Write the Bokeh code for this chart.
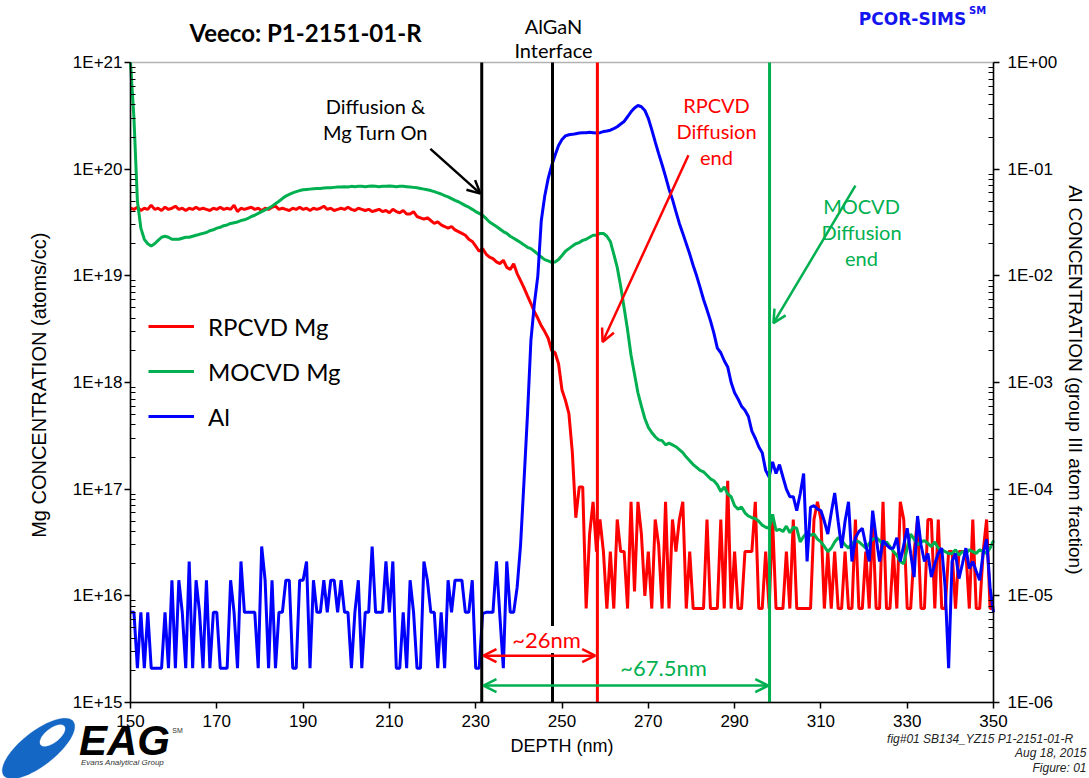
import numpy as np
from bokeh.plotting import figure
from bokeh.models import (Range1d, LogScale, LogAxis, FixedTicker, Label, Arrow,
                          OpenHead, Legend, LegendItem, PolyAnnotation, BoxAnnotation,
                          CustomJSTickFormatter)
from bokeh.embed import file_html
from bokeh.resources import INLINE

# ---------------- data ----------------
depth_start = 150.0
depth_step = 0.8

rpcvd_mg = [
    4.3e19, 4.2e19, 4.4e19, 4.1e19, 4.3e19, 4.2e19, 4.6e19, 4.2e19, 4.3e19, 4.1e19,
    4.4e19, 4.2e19, 4.3e19, 4.5e19, 4.2e19, 4.3e19, 4.1e19, 4.3e19, 4.2e19, 4.4e19,
    4.2e19, 4.3e19, 4.2e19, 4.1e19, 4.3e19, 4.2e19, 4.4e19, 4.2e19, 4.3e19, 4.2e19,
    4.6e19, 4.0e19, 4.3e19, 4.2e19, 4.3e19, 4.4e19, 4.2e19, 4.3e19, 4.1e19, 4.3e19,
    4.2e19, 4.4e19, 4.5e19, 4.2e19, 4.3e19, 4.2e19, 4.1e19, 4.3e19, 4.2e19, 4.4e19,
    4.2e19, 4.3e19, 4.1e19, 4.3e19, 4.2e19, 4.3e19, 4.5e19, 4.2e19, 4.3e19, 4.1e19,
    4.2e19, 4.3e19, 4.2e19, 4.4e19, 4.2e19, 4.1e19, 4.3e19, 4.2e19, 4.1e19, 4.2e19,
    4.0e19, 4.1e19, 4.2e19, 4.0e19, 4.1e19, 3.9e19, 4.2e19, 4.0e19, 3.9e19, 4.1e19,
    3.8e19, 3.8e19, 4.0e19, 3.6e19, 3.5e19, 3.4e19, 3.5e19, 3.3e19, 3.1e19, 3.2e19,
    3.0e19, 2.9e19, 2.8e19, 2.9e19, 2.7e19, 2.6e19, 2.5e19, 2.4e19, 2.2e19, 2.1e19,
    1.9e19, 1.7e19, 1.8e19, 1.6e19, 1.5e19, 1.45e19, 1.35e19, 1.3e19, 1.4e19, 1.2e19,
    1.15e19, 1.3e19, 1.05e19, 9.0e18, 7.7e18, 6.5e18, 5.5e18, 4.6e18, 4.0e18, 3.4e18,
    3.0e18, 2.6e18, 2.0e18, 1.9e18, 1.5e18, 8.5e17, 6.8e17, 5.1e17, 2.2e17, 5.4e16,
    1.05e17, 1.05e17, 7.6e15, 3.8e16, 7.6e16, 2.6e16, 5.2e16, 2.6e16, 7.6e15, 2.6e16,
    7.6e15, 5.2e16, 2.6e16, 2.6e16, 7.6e15, 7.6e16, 1.1e16, 7.6e16, 3.8e16, 1.0e16,
    2.6e16, 7.6e15, 5.2e16, 3.0e16, 7.6e15, 7.6e16, 7.6e15, 5.2e16, 2.6e16, 5.2e16,
    7.6e16, 7.6e15, 2.6e16, 7.6e15, 7.6e15, 7.6e15, 7.6e15, 5.2e16, 7.6e15, 7.6e15,
    7.6e15, 5.2e16, 7.6e15, 1.2e17, 7.6e15, 2.6e16, 7.6e15, 7.6e15, 2.6e16, 2.6e16,
    2.6e16, 7.6e16, 7.6e15, 7.6e15, 2.6e16, 7.6e15, 5.2e16, 7.6e15, 7.6e15, 7.6e15,
    2.6e16, 7.6e15, 5.2e16, 7.6e15, 7.6e15, 7.6e15, 7.6e15, 7.6e15, 5.2e16, 7.6e16,
    5.2e16, 7.6e15, 2.6e16, 7.6e15, 2.6e16, 7.6e15, 7.6e15, 2.6e16, 7.6e15, 7.6e15,
    5.2e16, 7.6e15, 7.6e15, 2.6e16, 7.6e15, 5.2e16, 7.6e15, 7.6e15, 7.6e16, 7.6e15,
    7.6e15, 2.6e16, 7.6e15, 7.6e16, 5.2e16, 7.6e15, 7.6e15, 2.6e16, 5.2e16, 7.6e15,
    7.6e15, 5.2e16, 5.2e16, 7.6e15, 5.2e16, 7.6e15, 7.6e15, 2.6e16, 2.6e16, 7.6e15,
    2.6e16, 2.6e16, 2.6e16, 7.6e15, 5.2e16, 7.6e15, 7.6e15, 2.6e16, 5.2e16, 7.6e15,
    7.6e15,
]

mocvd_mg = [
    1.0e21, 3.0e20, 5.0e19, 2.8e19, 2.2e19, 2.0e19, 1.9e19, 2.0e19, 2.15e19, 2.3e19,
    2.35e19, 2.3e19, 2.2e19, 2.2e19, 2.2e19, 2.25e19, 2.3e19, 2.3e19, 2.35e19, 2.4e19,
    2.45e19, 2.5e19, 2.55e19, 2.65e19, 2.7e19, 2.8e19, 2.85e19, 2.95e19, 3.0e19, 3.1e19,
    3.15e19, 3.2e19, 3.3e19, 3.35e19, 3.45e19, 3.6e19, 3.7e19, 3.85e19, 4.0e19, 4.15e19,
    4.3e19, 4.5e19, 4.75e19, 5.0e19, 5.3e19, 5.6e19, 5.8e19, 6.0e19, 6.15e19, 6.3e19,
    6.4e19, 6.45e19, 6.5e19, 6.55e19, 6.6e19, 6.6e19, 6.65e19, 6.7e19, 6.7e19, 6.75e19,
    6.8e19, 6.8e19, 6.85e19, 6.8e19, 6.9e19, 6.85e19, 6.9e19, 6.9e19, 6.85e19, 6.9e19,
    6.95e19, 6.9e19, 6.85e19, 6.9e19, 6.9e19, 6.95e19, 6.9e19, 6.85e19, 6.9e19, 6.9e19,
    6.85e19, 6.8e19, 6.75e19, 6.7e19, 6.6e19, 6.5e19, 6.4e19, 6.3e19, 6.15e19, 6.0e19,
    5.85e19, 5.65e19, 5.5e19, 5.3e19, 5.1e19, 4.95e19, 4.75e19, 4.55e19, 4.4e19, 4.2e19,
    4.0e19, 3.85e19, 3.7e19, 3.45e19, 3.2e19, 3.05e19, 2.9e19, 2.75e19, 2.6e19, 2.5e19,
    2.35e19, 2.25e19, 2.15e19, 2.05e19, 1.95e19, 1.85e19, 1.8e19, 1.7e19, 1.6e19, 1.5e19,
    1.42e19, 1.38e19, 1.34e19, 1.35e19, 1.42e19, 1.55e19, 1.7e19, 1.8e19, 1.9e19, 2.0e19,
    2.05e19, 2.15e19, 2.2e19, 2.3e19, 2.4e19, 2.4e19, 2.5e19, 2.5e19, 2.35e19, 2.1e19,
    1.6e19, 1.2e19, 8.0e18, 5.0e18, 3.1e18, 1.8e18, 1.2e18, 8.0e17, 6.0e17, 4.6e17,
    3.8e17, 3.4e17, 3.1e17, 2.9e17, 2.85e17, 2.6e17, 2.7e17, 2.6e17, 2.5e17, 2.35e17,
    2.2e17, 2.0e17, 1.85e17, 1.7e17, 1.6e17, 1.5e17, 1.45e17, 1.35e17, 1.25e17, 1.2e17,
    1.1e17, 9.5e16, 1.05e17, 9.0e16, 8.5e16, 7.0e16, 6.5e16, 6.8e16, 6.0e16, 5.6e16,
    5.4e16, 5.3e16, 5.0e16, 4.6e16, 4.4e16, 4.3e16, 5.8e16, 4.1e16, 4.2e16, 4.0e16,
    4.5e16, 3.9e16, 4.4e16, 4.3e16, 3.2e16, 3.6e16, 3.9e16, 3.7e16, 3.8e16, 3.4e16,
    3.2e16, 2.9e16, 2.6e16, 2.8e16, 3.2e16, 3.5e16, 3.3e16, 3.0e16, 2.8e16, 3.1e16,
    3.3e16, 3.2e16, 3.0e16, 2.8e16, 3.1e16, 3.4e16, 3.5e16, 3.3e16, 3.0e16, 3.2e16,
    2.9e16, 2.6e16, 2.4e16, 2.1e16, 2.0e16, 2.8e16, 3.8e16, 3.4e16, 3.0e16, 3.2e16,
    3.3e16, 3.1e16, 2.9e16, 3.2e16, 2.8e16, 2.7e16, 2.6e16, 2.5e16, 2.5e16, 2.7e16,
    2.4e16, 2.6e16, 2.5e16, 2.7e16, 2.6e16, 2.5e16, 2.7e16, 2.6e16, 2.5e16, 2.8e16,
    3.3e16,
]

al_fraction = [
    7e-6, 7e-6, 2.1e-6, 7e-6, 2.1e-6, 7e-6, 2.1e-6, 2.1e-6, 2.1e-6, 2.1e-6,
    7e-6, 2.1e-6, 1.4e-5, 2.1e-6, 1.4e-5, 7e-6, 2.1e-6, 2.1e-5, 2.1e-6, 1.4e-5,
    7e-6, 2.1e-6, 1.4e-5, 2.1e-6, 7e-6, 7e-6, 2.1e-6, 2.1e-6, 2.1e-6, 1.4e-5,
    7e-6, 2.1e-6, 2.1e-5, 7e-6, 7e-6, 7e-6, 7e-6, 2.1e-6, 2.9e-5, 1.4e-5,
    2.1e-6, 1.4e-5, 2.1e-6, 7e-6, 7e-6, 1.4e-5, 1.4e-5, 2.1e-6, 2.1e-6, 1.4e-5,
    1.4e-5, 2.1e-5, 2.1e-6, 1.4e-5, 7e-6, 7e-6, 1.4e-5, 7e-6, 1.4e-5, 1.4e-5,
    7e-6, 1.4e-5, 7e-6, 7e-6, 2.1e-6, 7e-6, 1.4e-5, 2.1e-6, 7e-6, 7e-6,
    2.9e-5, 7e-6, 7e-6, 7e-6, 2.1e-5, 7e-6, 2.1e-5, 2.1e-6, 2.1e-6, 7e-6,
    2.1e-6, 1.4e-5, 7e-6, 2.1e-6, 2.1e-6, 2.1e-5, 1.4e-5, 7e-6, 7e-6, 2.1e-6,
    7e-6, 2.1e-6, 1.4e-5, 7e-6, 1.4e-5, 1.4e-5, 1.4e-5, 7e-6, 7e-6, 1.4e-5,
    2.1e-6, 2.1e-6, 6.8e-6, 7e-6, 7e-6, 7e-6, 2.1e-5, 6.5e-6, 2.1e-6, 2.1e-5,
    7e-6, 7e-6, 1.2e-5, 3.0e-5, 1.2e-4, 5.0e-4, 2.5e-3, 5.5e-3, 1.0e-2, 3.3e-2,
    5.6e-2, 8.2e-2, 1.08e-1, 1.35e-1, 1.67e-1, 1.9e-1, 2.05e-1, 2.1e-1, 2.12e-1, 2.15e-1,
    2.18e-1, 2.2e-1, 2.2e-1, 2.22e-1, 2.2e-1, 2.18e-1, 2.2e-1, 2.25e-1, 2.28e-1, 2.32e-1,
    2.4e-1, 2.5e-1, 2.65e-1, 2.8e-1, 3.1e-1, 3.45e-1, 3.75e-1, 3.95e-1, 3.85e-1, 3.55e-1,
    3.0e-1, 2.35e-1, 1.8e-1, 1.4e-1, 1.1e-1, 8.5e-2, 6.5e-2, 5.2e-2, 4.0e-2, 3.1e-2,
    2.5e-2, 2.0e-2, 1.6e-2, 1.25e-2, 1.0e-2, 7.8e-3, 6.0e-3, 4.8e-3, 3.8e-3, 2.9e-3,
    2.1e-3, 1.9e-3, 1.6e-3, 1.4e-3, 1.0e-3, 8.0e-4, 7.0e-4, 6.0e-4, 5.5e-4, 4.8e-4,
    3.5e-4, 3.0e-4, 2.5e-4, 2.2e-4, 1.5e-4, 1.3e-4, 1.8e-4, 1.4e-4, 1.7e-4, 1.3e-4,
    1.0e-4, 8.5e-5, 8.5e-5, 6.3e-5, 9.0e-5, 1.4e-4, 2.1e-5, 6.8e-5, 7.0e-5, 6.5e-5,
    6.3e-5, 5.0e-5, 3.8e-5, 6.0e-5, 9.2e-5, 5.0e-5, 2.8e-5, 5.0e-5, 7.6e-5, 2.1e-5,
    3.5e-5, 4.0e-5, 4.3e-5, 3.0e-5, 2.1e-5, 6.3e-5, 3.5e-5, 2.1e-5, 3.3e-5, 3.0e-5,
    2.8e-5, 2.8e-5, 3.5e-5, 2.1e-5, 3.0e-5, 4.3e-5, 2.5e-5, 1.5e-5, 5.6e-5, 3.0e-5,
    2.1e-5, 2.5e-5, 1.5e-5, 2.0e-5, 2.5e-5, 2.8e-5, 1.2e-5, 2.1e-6, 2.1e-5, 2.5e-5,
    1.45e-5, 2.0e-5, 2.8e-5, 1.8e-5, 2.1e-5, 1.7e-5, 1.4e-5, 2.5e-5, 3.4e-5, 1.2e-5,
    7e-6,
]

series_names = ["RPCVD Mg", "MOCVD Mg", "Al"]
series_colors = ["#FF0000", "#00B050", "#0000FF"]

x_ticks = [150, 170, 190, 210, 230, 250, 270, 290, 310, 330, 350]
left_ticks = [1e15, 1e16, 1e17, 1e18, 1e19, 1e20, 1e21]
left_tick_labels = ["1E+15", "1E+16", "1E+17", "1E+18", "1E+19", "1E+20", "1E+21"]
right_ticks = [1e-6, 1e-5, 1e-4, 1e-3, 1e-2, 1e-1, 1e0]
right_tick_labels = ["1E-06", "1E-05", "1E-04", "1E-03", "1E-02", "1E-01", "1E+00"]

# reference lines (depth, nm)
marker_depths = [231.4, 247.8, 258.2, 298.1]
marker_colors = ["black", "black", "#FF0000", "#00B050"]

n = len(rpcvd_mg)
assert len(mocvd_mg) == n and len(al_fraction) == n, (len(rpcvd_mg), len(mocvd_mg), len(al_fraction))
depth = [round(depth_start + depth_step * i, 2) for i in range(n)]

# ---------------- layout geometry ----------------
W, H = 1089, 778
FL, FR, FT, FB = 130, 993, 62, 702          # plotting box edges on the page
X0, X1 = x_ticks[0], x_ticks[-1]
E0, E1 = 15, 21                              # decades shown on the left axis
px_per_nm = (FR - FL) / (X1 - X0)
px_per_dec = (FB - FT) / (E1 - E0)
xr = Range1d(X0 - FL / px_per_nm, X1 + (W - FR) / px_per_nm)
top_dec = E1 + FT / px_per_dec
bot_dec = E0 - (H - FB) / px_per_dec
yr_mg = Range1d(10 ** bot_dec, 10 ** top_dec)
yr_al = Range1d(10 ** (bot_dec - 21), 10 ** (top_dec - 21))

p = figure(width=W, height=H, x_range=xr, y_range=yr_mg, y_axis_type="log",
           output_backend="svg", toolbar_location=None, title=None,
           min_border_left=0, min_border_right=0, min_border_top=0, min_border_bottom=0,
           background_fill_color="white", border_fill_color="white", outline_line_color=None)
p.extra_y_ranges = {"al": yr_al}
p.extra_y_scales = {"al": LogScale()}
p.grid.visible = False

AX_FONT = "Liberation Sans"

xa = p.xaxis[0]
xa.fixed_location = left_ticks[0]
xa.bounds = (X0, X1)
xa.ticker = FixedTicker(ticks=x_ticks)
xa.axis_label = "DEPTH (nm)"
xa.major_tick_out = 6
xa.major_tick_in = 0
xa.minor_tick_out = 0
xa.minor_tick_in = 0
xa.major_label_standoff = 6
xa.axis_label_standoff = 6

ya = p.yaxis[0]
ya.fixed_location = X0
ya.bounds = (left_ticks[0], left_ticks[-1])
ya.ticker = FixedTicker(ticks=left_ticks,
                        minor_ticks=[m * 10.0 ** e for e in range(15, 21) for m in range(2, 10)])
ya.formatter = CustomJSTickFormatter(args=dict(labels=left_tick_labels),
                                     code="return labels[Math.round(Math.log10(tick)) - 15];")
ya.axis_label = "Mg CONCENTRATION  (atoms/cc)"
ya.major_label_standoff = 2
ya.axis_label_standoff = 20

yr = LogAxis(y_range_name="al")
yr.fixed_location = X1
yr.bounds = (right_ticks[0], right_ticks[-1])
yr.ticker = FixedTicker(ticks=right_ticks,
                        minor_ticks=[m * 10.0 ** e for e in range(-6, 0) for m in range(2, 10)])
yr.formatter = CustomJSTickFormatter(args=dict(labels=right_tick_labels),
                                     code="return labels[Math.round(Math.log10(tick)) + 6];")
yr.axis_label = "Al CONCENTRATION  (group III atom fraction)"
yr.major_label_standoff = 8
yr.axis_label_standoff = 5
p.add_layout(yr, "right")

for ax in (ya, yr):
    ax.major_tick_out = 6
    ax.major_tick_in = 0
    ax.minor_tick_in = 5
    ax.minor_tick_out = 0
    ax.minor_tick_line_width = 1.2

for ax, lsize in ((xa, "18px"), (ya, "20px"), (yr, "19px")):
    ax.axis_line_width = 1.5
    ax.major_tick_line_width = 1.5
    ax.major_label_text_font = AX_FONT
    ax.major_label_text_font_size = "17px"
    ax.major_label_text_color = "black"
    ax.axis_label_text_font = AX_FONT
    ax.axis_label_text_font_size = lsize
    ax.axis_label_text_font_style = "normal"
    ax.axis_label_text_color = "black"
    ax.axis_line_color = "black"
    ax.major_tick_line_color = "black"
    ax.minor_tick_line_color = "black"

# plot box (top edge etc.)
p.add_layout(BoxAnnotation(left=X0, right=X1, bottom=left_ticks[0], top=left_ticks[-1],
                           fill_alpha=0, line_color="black", line_width=1.5, level="underlay"))

# ---------------- series ----------------
r_red = p.line(depth, rpcvd_mg, line_color=series_colors[0], line_width=3)
r_grn = p.line(depth, mocvd_mg, line_color=series_colors[1], line_width=3)
r_blu = p.line(depth, al_fraction, line_color=series_colors[2], line_width=3, y_range_name="al")

# vertical reference lines
p.segment(x0=marker_depths, y0=[left_ticks[0]] * len(marker_depths),
          x1=marker_depths, y1=[left_ticks[-1]] * len(marker_depths),
          line_color=marker_colors, line_width=3)

legend = Legend(items=[LegendItem(label=series_names[0], renderers=[r_red]),
                       LegendItem(label=series_names[1], renderers=[r_grn]),
                       LegendItem(label=series_names[2], renderers=[r_blu])],
                location=(138, H - 446), orientation="vertical",
                background_fill_alpha=0, border_line_alpha=0,
                label_text_font="Lato", label_text_font_size="24px", label_text_color="black",
                glyph_width=46, glyph_height=20, label_height=40, spacing=5,
                label_standoff=14, padding=10)
p.add_layout(legend)

# ---------------- annotations ----------------
def arrow(x0, y0, x1, y1, color, double=False):
    head = dict(size=13, line_color=color, line_width=2.5)
    p.add_layout(Arrow(x_start=x0, y_start=y0, x_end=x1, y_end=y1, line_color=color,
                       line_width=2.5, end=OpenHead(**head),
                       start=OpenHead(**head) if double else None))

arrow(219.5, 1.55e20, 231.1, 5.9e19, "black")
arrow(279.3, 1.35e20, 259.4, 2.4e18, "#FF0000")
arrow(318.0, 7.0e19, 299.0, 3.6e18, "#00B050")
arrow(231.8, 2.75e15, 257.7, 2.75e15, "#FF0000", double=True)
arrow(231.8, 1.44e15, 297.8, 1.44e15, "#00B050", double=True)


def label(px, py, text, color="black", size="20px", font="Lato", style="normal",
          align="center", bg=None):
    lb = Label(x=px, y=H - py, x_units="screen", y_units="screen", text=text,
               text_color=color, text_font_size=size, text_font=font, text_font_style=style,
               text_align=align, text_baseline="middle")
    if bg is not None:
        lb.background_fill_color = bg
    p.add_layout(lb)

label(305, 32, "Veeco: P1-2151-01-R", size="24px", style="bold")
label(912, 18, "PCOR-SIMS", color="#1414F0", size="17px", font="DejaVu Sans", style="bold")
label(977, 10, "SM", color="#1414F0", size="10px", font="DejaVu Sans", style="bold")

label(553, 25, "AlGaN")
label(553, 49, "Interface")
label(375, 105, "Diffusion &")
label(375, 131, "Mg Turn On")
label(716, 104, "RPCVD", color="#FF0000")
label(716, 130, "Diffusion", color="#FF0000")
label(716, 156, "end", color="#FF0000")
label(861, 205, "MOCVD", color="#00B050")
label(861, 231, "Diffusion", color="#00B050")
label(861, 257, "end", color="#00B050")
label(546, 639, "~26nm", color="#FF0000", size="22px", bg="white")
label(663, 667, "~67.5nm", color="#00B050", size="22px")

label(1086, 738, "fig#01   SB134_YZ15   P1-2151-01-R", color="#222222", size="12px",
      font=AX_FONT, style="italic", align="right")
label(1086, 752, "Aug 18, 2015", color="#222222", size="12px", font=AX_FONT, style="italic", align="right")
label(1086, 767, "Figure: 01", color="#222222", size="12px", font=AX_FONT, style="italic", align="right")

# EAG logo (decorative)
t = np.linspace(0, 2 * np.pi, 72)
ang = np.deg2rad(-38)
ex = 44 * np.cos(t) * np.cos(ang) - 17 * np.sin(t) * np.sin(ang) + 38
ey = 44 * np.cos(t) * np.sin(ang) + 17 * np.sin(t) * np.cos(ang) + 748
p.add_layout(PolyAnnotation(xs=list(ex), ys=list(H - ey), xs_units="screen", ys_units="screen",
                            fill_color="#1467C4", fill_alpha=1, line_color="#1467C4"))
ix = 15 * np.cos(t) * np.cos(ang) - 7 * np.sin(t) * np.sin(ang) + 52
iy = 15 * np.cos(t) * np.sin(ang) + 7 * np.sin(t) * np.cos(ang) + 735
p.add_layout(PolyAnnotation(xs=list(ix), ys=list(H - iy), xs_units="screen", ys_units="screen",
                            fill_color="white", fill_alpha=1, line_color="white"))
label(124, 740, "EAG", size="42px", font=AX_FONT, style="bold italic")
label(122, 762, "Evans Analytical Group", color="#333333", size="8px", font=AX_FONT, style="italic")
label(177, 730, "SM", color="#333333", size="7px", font=AX_FONT)

open("out.html", "w").write(file_html(p, INLINE))
